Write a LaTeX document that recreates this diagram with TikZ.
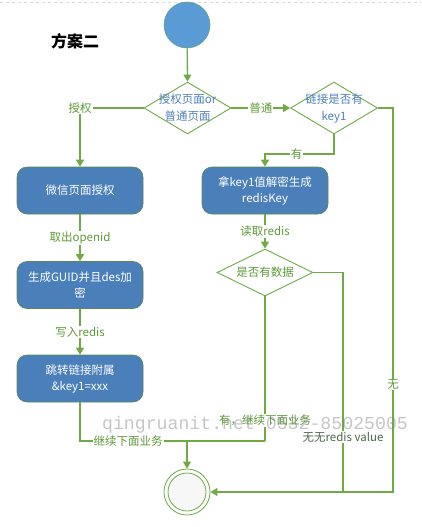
\documentclass[tikz,border=0pt]{standalone}
\usepackage{fontspec}
\setmainfont{Noto Sans CJK SC}
\newfontfamily\wmfont{Liberation Mono}
\usetikzlibrary{arrows.meta,shapes.geometric,calc}
\definecolor{lgreen}{HTML}{6FAA45}
\definecolor{boxblue}{HTML}{4A7FBA}
\definecolor{boxedge}{HTML}{5A8A50}
\definecolor{dtext}{HTML}{4F81BD}
\definecolor{ltext}{HTML}{5E9A38}
\definecolor{startblue}{HTML}{5B9BD5}
\tikzset{
  flow/.style={draw=lgreen, line width=1.3pt},
  arr/.style={flow, -{Triangle[length=7pt,width=8pt]}},
  stepbox/.style={draw=boxedge, line width=0.6pt, fill=boxblue, rounded corners=10pt,
    minimum width=126pt, minimum height=47pt, inner sep=2pt, text width=120pt,
    align=center, text=white, font=\fontsize{11.5}{16}\selectfont},
  decide/.style={diamond, draw=lgreen, line width=0.9pt, fill=white, inner sep=0pt},
  dlabel/.style={text=dtext, align=center, font=\fontsize{11.5}{17}\selectfont},
  elabel/.style={text=ltext, fill=white, inner sep=1pt, font=\fontsize{11.5}{14}\selectfont},
}
\begin{document}
\begin{tikzpicture}[x=1pt,y=-1pt]
\useasboundingbox (0,0) rectangle (421,527);
\draw[gray!30, dashed, line width=0.5pt] (0,2) -- (421,2);

\node[font=\fontsize{16}{18}\selectfont\bfseries] (title) at (75,41) {方案二};

\node[circle, fill=startblue, draw=lgreen!60!startblue, line width=0.6pt, minimum size=46pt, inner sep=0pt] (start) at (187,25) {};

\node[decide, minimum width=87pt, minimum height=52pt] (d1) at (187.5,108) {};
\node[dlabel] (d1t) at (d1) {授权页面or\\普通页面};
\node[decide, minimum width=87pt, minimum height=52pt] (d2) at (334,108) {};
\node[dlabel] (d2t) at (d2) {链接是否有\\key1};

\node[stepbox] (L1) at (80,190.5) {微信页面授权};
\node[stepbox] (L2) at (80,285) {生成GUID并且des加\\密};
\node[stepbox] (L3) at (80,378.5) {跳转链接附属\\\&key1=xxx};
\node[stepbox] (R1) at (265,190.5) {拿key1值解密生成\\redisKey};

\node[decide, minimum width=96pt, minimum height=47pt] (d3) at (265,272.5) {};
\node[dlabel, text=ltext] (d3t) at (d3) {是否有数据};

\node[circle, draw=lgreen, line width=0.8pt, fill=white, minimum size=46pt, inner sep=0pt] (E) at (187,492) {};
\node[circle, draw=lgreen, line width=0.8pt, fill=blue!4!gray!6, minimum size=38pt, inner sep=0pt] (Ein) at (187,492) {};

\coordinate (c1) at (393,108);
\coordinate (c2) at (393,492);
\coordinate (c3) at (343,272.5);
\coordinate (c4) at (343,492);
\coordinate (c5) at (334,154);
\coordinate (j1) at (187,441);
\coordinate (j2) at (265,441);

% connectors
\draw[arr] (start) -- (d1.north);
\draw[arr] (d1.west) -| node[elabel, pos=0.5] {授权} (L1.north);
\draw[arr] (d1.east) -- node[elabel, pos=0.5] {普通} (d2.west);
\draw[arr] (d2.south) -- (c5) -| node[elabel, pos=0.27] {有} (R1.north);
\draw[arr] (d2.east) -- (c1) -- node[elabel, pos=0.72] {无} (c2) -- (E.east);
\draw[arr] (L1.south) -- node[elabel] {取出openid} (L2.north);
\draw[arr] (L2.south) -- node[elabel] {写入redis} (L3.north);
\draw[arr] (R1.south) -- node[elabel] {读取redis} (d3.north);
\draw[flow] (L3.south) |- node[elabel, pos=0.63] {继续下面业务} (j2);
\draw[flow] (d3.south) -- node[elabel, pos=0.86] {有，继续下面业务} (j2);
\draw[flow] (d3.east) -- (c3) -- node[elabel, text=black!75!green!40!gray, pos=0.75] {无无redis value} (c4);
\draw[arr] (j1) -- (E.north);

% watermark
\node[text=gray, opacity=0.45, font=\wmfont\fontsize{18.2}{20}\selectfont, inner sep=0pt] (wm) at (255,425) {qingruanit.net 0532-85025005};
\end{tikzpicture}
\end{document}
